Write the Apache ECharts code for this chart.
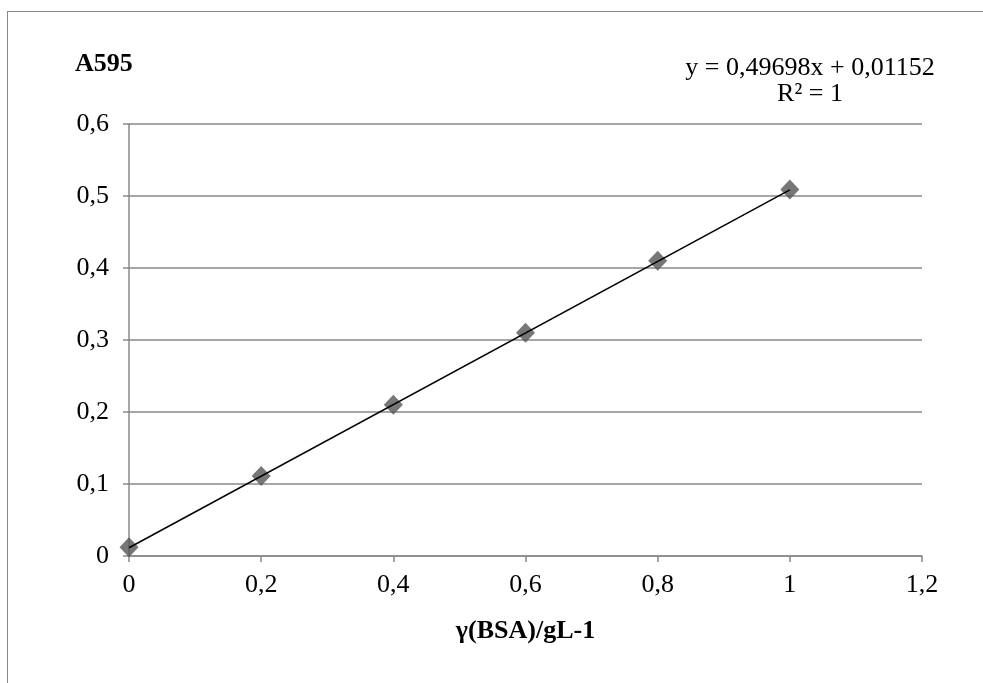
<!DOCTYPE html>
<html>
<head>
<meta charset="utf-8">
<script src="https://cdn.jsdelivr.net/npm/echarts@6/dist/echarts.min.js"></script>
<style>
  html, body { margin: 0; padding: 0; background: #fff; overflow: hidden; }
  #wrap { position: relative; width: 983px; height: 683px; }
  #frame { position: absolute; left: 7px; top: 11px; width: 1000px; height: 700px; border: 1px solid #868686; }
  #chart { position: absolute; left: 0; top: 0; width: 983px; height: 683px; }
</style>
</head>
<body>
<div id="wrap">
  <div id="frame"></div>
  <div id="chart"></div>
</div>
<script>
// BSA standard curve, absorbance at 595 nm
const concentrations = [0, 0.2, 0.4, 0.6, 0.8, 1.0]
const absorbance = [0.012, 0.111, 0.21, 0.31, 0.41, 0.509]
const trendX = [0, 1]
const trendY = [0.0115, 0.5085]
const xTicks = [0, 0.2, 0.4, 0.6, 0.8, 1, 1.2]
const yTicks = [0, 0.1, 0.2, 0.3, 0.4, 0.5, 0.6]

const serif = '"Liberation Serif", "Times New Roman", serif'
const comma = v => String(Math.round(v * 10) / 10).replace('.', ',')

const chart = echarts.init(document.getElementById('chart'))
chart.setOption({
  animation: false,
  textStyle: { fontFamily: serif },
  grid: { left: 129, right: 61, top: 124, bottom: 127 },
  xAxis: {
    type: 'value',
    min: xTicks[0],
    max: xTicks[xTicks.length - 1],
    interval: 0.2,
    name: 'γ(BSA)/gL-1',
    nameLocation: 'middle',
    nameGap: 62,
    nameTextStyle: { fontFamily: serif, fontSize: 26, fontWeight: 'bold', color: '#000' },
    axisLine: { lineStyle: { color: '#898989', width: 1.5 } },
    axisTick: { show: true, length: 6, lineStyle: { color: '#898989', width: 1.5 } },
    axisLabel: { fontFamily: serif, fontSize: 26, color: '#000', margin: 16, formatter: comma },
    splitLine: { show: false }
  },
  yAxis: {
    type: 'value',
    min: yTicks[0],
    max: yTicks[yTicks.length - 1],
    interval: 0.1,
    axisLine: { show: true, lineStyle: { color: '#898989', width: 1.5 } },
    axisTick: { show: true, length: 6, lineStyle: { color: '#898989', width: 1.5 } },
    axisLabel: { fontFamily: serif, fontSize: 26, color: '#000', margin: 20, formatter: comma },
    splitLine: { show: true, lineStyle: { color: '#898989', width: 1.5 } }
  },
  graphic: [
    {
      type: 'text', x: 75, y: 51,
      style: { text: 'A595', font: 'bold 26px ' + serif, fill: '#000' }
    },
    {
      type: 'text', x: 810, y: 55,
      style: {
        text: 'y = 0,49698x + 0,01152\nR² = 1',
        font: '26px ' + serif, fill: '#000', align: 'center', lineHeight: 26
      }
    }
  ],
  series: [
    {
      type: 'line',
      data: trendX.map((x, i) => [x, trendY[i]]),
      symbol: 'none',
      lineStyle: { color: '#000', width: 1.5 },
      z: 3
    },
    {
      type: 'scatter',
      data: concentrations.map((x, i) => [x, absorbance[i]]),
      symbol: 'diamond',
      symbolSize: [19, 20],
      itemStyle: { color: '#555555' },
      z: 2
    }
  ]
})
</script>
</body>
</html>
